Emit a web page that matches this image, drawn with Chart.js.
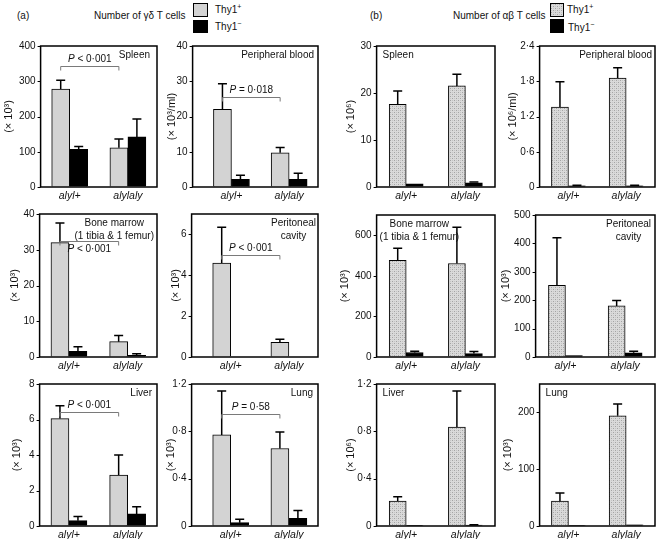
<!DOCTYPE html>
<html>
<head>
<meta charset="utf-8">
<script src="https://cdn.jsdelivr.net/npm/chart.js@4.4.1/dist/chart.umd.min.js"></script>
<style>
  body { margin: 0; width: 658px; height: 539px; position: relative; overflow: hidden; background: #fff;
         font-family: 'Liberation Sans', Arial, sans-serif; color: #111; }
  canvas { position: absolute; }
  .t { position: absolute; font-size: 10px; line-height: 1; white-space: nowrap; }
  .sw { position: absolute; border: 1px solid #000; box-sizing: border-box; }
  sup { font-size: 7px; vertical-align: 4px; line-height: 0; }
</style>
</head>
<body>
<div class="t" style="left:17px;top:11px">(a)</div>
<div class="t" style="left:94px;top:11px">Number of γδ T cells</div>
<div class="sw" style="left:193px;top:3px;width:15px;height:14px;background:#d3d3d3"></div>
<div class="sw" style="left:193px;top:20px;width:15px;height:13px;background:#000"></div>
<div class="t" style="left:215px;top:5px">Thy1<sup>+</sup></div>
<div class="t" style="left:215px;top:22px">Thy1<sup>−</sup></div>

<div class="t" style="left:370px;top:11px">(b)</div>
<div class="t" style="left:453px;top:11px">Number of αβ T cells</div>
<div class="sw" id="stippleSwatch" style="left:550px;top:3px;width:14px;height:14px"></div>
<div class="sw" style="left:550px;top:19px;width:14px;height:14px;background:#000"></div>
<div class="t" style="left:567px;top:5px">Thy1<sup>+</sup></div>
<div class="t" style="left:568px;top:23px">Thy1<sup>−</sup></div>

<script>
const groups = ['alyl+', 'alylaly'];

// (a) gamma-delta T cells: Thy1+ (pos) / Thy1- (neg), errors are the upper SE bar length
const gdSpleenPos = [278, 111];
const gdSpleenPosErr = [25, 25];
const gdSpleenNeg = [107, 142];
const gdSpleenNegErr = [8, 51];
const gdSpleenTicks = [0, 100, 200, 300, 400];

const gdBloodPos = [22, 9.7];
const gdBloodPosErr = [7.3, 1.5];
const gdBloodNeg = [2.2, 2.2];
const gdBloodNegErr = [1.1, 1.7];
const gdBloodTicks = [0, 10, 20, 30, 40];

const gdMarrowPos = [32, 4.3];
const gdMarrowPosErr = [5.5, 1.7];
const gdMarrowNeg = [1.6, 0.5];
const gdMarrowNegErr = [1.3, 0.4];
const gdMarrowTicks = [0, 10, 20, 30, 40];

const gdPeritPos = [4.6, 0.72];
const gdPeritPosErr = [1.75, 0.15];
const gdPeritNeg = [0, 0];
const gdPeritNegErr = [0, 0];
const gdPeritTicks = [0, 2, 4, 6];

const gdLiverPos = [6.05, 2.87];
const gdLiverPosErr = [0.72, 1.13];
const gdLiverNeg = [0.3, 0.68];
const gdLiverNegErr = [0.23, 0.4];
const gdLiverTicks = [0, 2, 4, 6, 8];

const gdLungPos = [0.77, 0.655];
const gdLungPosErr = [0.37, 0.14];
const gdLungNeg = [0.028, 0.065];
const gdLungNegErr = [0.03, 0.065];
const gdLungTicks = [0, 0.4, 0.8, 1.2];

// (b) alpha-beta T cells
const abSpleenPos = [17.6, 21.5];
const abSpleenPosErr = [2.8, 2.5];
const abSpleenNeg = [0.7, 0.9];
const abSpleenNegErr = [0, 0.15];
const abSpleenTicks = [0, 10, 20, 30];

const abBloodPos = [1.36, 1.855];
const abBloodPosErr = [0.43, 0.175];
const abBloodNeg = [0.02, 0.02];
const abBloodNegErr = [0.01, 0.01];
const abBloodTicks = [0, 0.6, 1.2, 1.8, 2.4];

const abMarrowPos = [477, 461];
const abMarrowPosErr = [59, 179];
const abMarrowNeg = [22, 17];
const abMarrowNegErr = [6, 10];
const abMarrowTicks = [0, 200, 400, 600];

const abPeritPos = [252, 180];
const abPeritPosErr = [168, 19];
const abPeritNeg = [5, 15];
const abPeritNegErr = [0, 5];
const abPeritTicks = [0, 100, 200, 300, 400, 500];

const abLiverPos = [0.211, 0.837];
const abLiverPosErr = [0.037, 0.303];
const abLiverNeg = [0.005, 0.008];
const abLiverNegErr = [0, 0.003];
const abLiverTicks = [0, 0.4, 0.8, 1.2];

const abLungPos = [43.7, 194];
const abLungPosErr = [14.5, 21];
const abLungNeg = [1, 2];
const abLungNegErr = [0, 0];
const abLungTicks = [0, 100, 200];

const FONT = "'Liberation Sans', Arial, sans-serif";
const GRAY = '#d3d3d3';

function makeStipple() {
  const c = document.createElement('canvas');
  c.width = 4;
  c.height = 4;
  const g = c.getContext('2d');
  g.fillStyle = '#dadada';
  g.fillRect(0, 0, 4, 4);
  g.fillStyle = '#a4a4a4';
  g.fillRect(0, 0, 1, 1);
  g.fillRect(2, 2, 1, 1);
  g.fillStyle = '#c4c4c4';
  g.fillRect(2, 0, 1, 1);
  g.fillRect(0, 2, 1, 1);
  return { canvas: c, pattern: g.createPattern(c, 'repeat') };
}
const stipple = makeStipple();
document.getElementById('stippleSwatch').style.background = `url(${stipple.canvas.toDataURL()})`;

// box = frame [left, top, right, bottom]; shift moves the bar groups right inside the frame
const panels = [
  { box: [41, 46, 157, 187], pos: gdSpleenPos, posErr: gdSpleenPosErr, neg: gdSpleenNeg, negErr: gdSpleenNegErr,
    ticks: gdSpleenTicks, max: 400, title: '(× 10³)', titleGap: 32,
    label: ['Spleen'], align: 'right', inset: 7, bracket: { value: 343, text: ' < 0·001' } },
  { box: [193, 46, 318, 187], shift: 10, pos: gdBloodPos, posErr: gdBloodPosErr, neg: gdBloodNeg, negErr: gdBloodNegErr,
    ticks: gdBloodTicks, max: 40, title: '(× 10³/ml)', titleGap: 21,
    label: ['Peripheral blood'], align: 'right', inset: 4, bracket: { value: 25.5, text: ' = 0·018' } },
  { box: [377, 46, 495, 187], pos: abSpleenPos, posErr: abSpleenPosErr, neg: abSpleenNeg, negErr: abSpleenNegErr,
    ticks: abSpleenTicks, max: 30, title: '(× 10⁶)', titleGap: 26, stipple: true,
    label: ['Spleen'], align: 'left', inset: 6 },
  { box: [540, 46, 655, 187], pos: abBloodPos, posErr: abBloodPosErr, neg: abBloodNeg, negErr: abBloodNegErr,
    ticks: abBloodTicks, max: 2.4, title: '(× 10⁶/ml)', titleGap: 27, stipple: true,
    label: ['Peripheral blood'], align: 'right', inset: 3 },

  { box: [40, 214, 157, 357], pos: gdMarrowPos, posErr: gdMarrowPosErr, neg: gdMarrowNeg, negErr: gdMarrowNegErr,
    ticks: gdMarrowTicks, max: 40, title: '(× 10³)', titleGap: 25,
    label: ['Bone marrow', '(1 tibia & 1 femur)'], align: 'right', inset: 3,
    bracket: { value: 32.5, text: ' < 0·001', below: true } },
  { box: [192, 214, 318, 357], shift: 10, pos: gdPeritPos, posErr: gdPeritPosErr, neg: gdPeritNeg, negErr: gdPeritNegErr,
    ticks: gdPeritTicks, max: 7, title: '(× 10³)', titleGap: 16,
    label: ['Peritoneal', 'cavity'], align: 'right', inset: 2, bracket: { value: 5.0, text: ' < 0·001' } },
  { box: [377, 215, 495, 357], pos: abMarrowPos, posErr: abMarrowPosErr, neg: abMarrowNeg, negErr: abMarrowNegErr,
    ticks: abMarrowTicks, max: 700, title: '(× 10³)', titleGap: 32, stipple: true,
    label: ['Bone marrow', '(1 tibia & 1 femur)'], align: 'left', inset: 3 },
  { box: [536, 215, 655, 357], pos: abPeritPos, posErr: abPeritPosErr, neg: abPeritNeg, negErr: abPeritNegErr,
    ticks: abPeritTicks, max: 500, title: '(× 10³)', titleGap: 30, stipple: true,
    label: ['Peritoneal', 'cavity'], align: 'right', inset: 4 },

  { box: [40, 384, 157, 526], pos: gdLiverPos, posErr: gdLiverPosErr, neg: gdLiverNeg, negErr: gdLiverNegErr,
    ticks: gdLiverTicks, max: 8, title: '(× 10³)', titleGap: 23,
    label: ['Liver'], align: 'right', inset: 5, bracket: { value: 6.45, text: ' < 0·001' } },
  { box: [192, 384, 318, 526], shift: 10, pos: gdLungPos, posErr: gdLungPosErr, neg: gdLungNeg, negErr: gdLungNegErr,
    ticks: gdLungTicks, max: 1.2, title: '(× 10³)', titleGap: 21,
    label: ['Lung'], align: 'right', inset: 5, bracket: { value: 0.945, text: ' = 0·58' } },
  { box: [377, 384, 495, 526], pos: abLiverPos, posErr: abLiverPosErr, neg: abLiverNeg, negErr: abLiverNegErr,
    ticks: abLiverTicks, max: 1.2, title: '(× 10⁶)', titleGap: 26, stipple: true,
    label: ['Liver'], align: 'left', inset: 6 },
  { box: [540, 384, 655, 526], pos: abLungPos, posErr: abLungPosErr, neg: abLungNeg, negErr: abLungNegErr,
    ticks: abLungTicks, max: 250, title: '(× 10³)', titleGap: 32, stipple: true,
    label: ['Lung'], align: 'left', inset: 6 },
];

function formatTick(value) {
  return String(value).replace('.', '·');
}

function makePanel(p) {
  const [left, top, right, bottom] = p.box;
  const shift = p.shift || 0;
  const areaLeft = left + shift;
  const titleSize = 11;
  const axisW = p.titleGap + titleSize * 0.6 + shift;
  const padTop = 8;
  const padRight = 4;
  const axisH = 18;

  const canvas = document.createElement('canvas');
  canvas.width = Math.round(axisW + (right - areaLeft) + padRight);
  canvas.height = padTop + (bottom - top) + axisH;
  canvas.style.left = Math.round(areaLeft - axisW) + 'px';
  canvas.style.top = (top - padTop) + 'px';
  document.body.appendChild(canvas);

  const thickness = p.stipple ? 17 : 18;

  const panelPlugin = {
    id: 'panelExtras',
    afterDatasetsDraw(chart) {
      const { ctx, chartArea, scales } = chart;
      const y = scales.y;
      const frameLeft = chartArea.left - shift;
      ctx.save();

      // error bars, upper side only
      ctx.strokeStyle = '#000';
      ctx.lineWidth = 1.5;
      chart.data.datasets.forEach((ds, di) => {
        chart.getDatasetMeta(di).data.forEach((bar, i) => {
          const err = ds.errors[i];
          if (!err) return;
          const yTop = y.getPixelForValue(ds.data[i] + err);
          ctx.beginPath();
          ctx.moveTo(bar.x, bar.y);
          ctx.lineTo(bar.x, yTop);
          ctx.moveTo(bar.x - 4.5, yTop);
          ctx.lineTo(bar.x + 4.5, yTop);
          ctx.stroke();
        });
      });

      // y tick marks on the frame
      ctx.lineWidth = 1;
      ctx.beginPath();
      y.ticks.forEach((t) => {
        const py = Math.round(y.getPixelForValue(t.value)) + 0.5;
        ctx.moveTo(frameLeft - 3, py);
        ctx.lineTo(frameLeft, py);
      });
      ctx.stroke();

      // frame
      ctx.lineWidth = 1.5;
      ctx.strokeRect(frameLeft, chartArea.top, chartArea.right - frameLeft, chartArea.bottom - chartArea.top);

      // significance bracket between the two Thy1+ bars
      if (p.bracket) {
        const bars = chart.getDatasetMeta(0).data;
        const x1 = bars[0].x;
        const x2 = bars[1].x;
        const yb = Math.round(y.getPixelForValue(p.bracket.value)) + 0.5;
        ctx.strokeStyle = '#7a7a7a';
        ctx.lineWidth = 1;
        ctx.beginPath();
        ctx.moveTo(x1, yb + 4);
        ctx.lineTo(x1, yb);
        ctx.lineTo(x2, yb);
        ctx.lineTo(x2, yb + 4);
        ctx.stroke();

        ctx.fillStyle = '#111';
        ctx.textBaseline = 'middle';
        ctx.font = `italic 10px ${FONT}`;
        const wP = ctx.measureText('P').width;
        ctx.font = `10px ${FONT}`;
        const wRest = ctx.measureText(p.bracket.text).width;
        const tx = (x1 + x2) / 2 - (wP + wRest) / 2;
        const ty = p.bracket.below ? yb + 8 : yb - 7;
        ctx.font = `italic 10px ${FONT}`;
        ctx.textAlign = 'left';
        ctx.fillText('P', tx, ty);
        ctx.font = `10px ${FONT}`;
        ctx.fillText(p.bracket.text, tx + wP, ty);
      }

      // tissue label inside the box
      ctx.font = `10px ${FONT}`;
      ctx.fillStyle = '#111';
      ctx.textBaseline = 'middle';
      ctx.textAlign = 'center';
      const widths = p.label.map((s) => ctx.measureText(s).width);
      const maxW = Math.max(...widths);
      const cx = p.align === 'right'
        ? chartArea.right - p.inset - maxW / 2
        : frameLeft + p.inset + maxW / 2;
      p.label.forEach((line, i) => {
        ctx.fillText(line, cx, chartArea.top + 9 + i * 13);
      });

      ctx.restore();
    },
  };

  new Chart(canvas, {
    type: 'bar',
    data: {
      labels: groups,
      datasets: [
        {
          label: 'Thy1+',
          data: p.pos,
          errors: p.posErr,
          backgroundColor: p.stipple ? stipple.pattern : GRAY,
          borderColor: '#000',
          borderWidth: 1,
          barThickness: thickness,
        },
        {
          label: 'Thy1-',
          data: p.neg,
          errors: p.negErr,
          backgroundColor: '#000',
          borderColor: '#000',
          borderWidth: 1,
          barThickness: thickness,
        },
      ],
    },
    options: {
      responsive: false,
      animation: false,
      events: [],
      layout: { padding: { top: padTop, right: padRight, left: 0, bottom: 0 } },
      plugins: {
        legend: { display: false },
        tooltip: { enabled: false },
      },
      scales: {
        x: {
          grid: { display: false, drawTicks: false },
          border: { display: false },
          ticks: {
            color: '#111',
            padding: 3,
            maxRotation: 0,
            font: { family: FONT, size: 10.5, style: 'italic' },
          },
          afterFit: (scale) => { scale.height = axisH; },
        },
        y: {
          min: 0,
          max: p.max,
          grid: { drawOnChartArea: false, tickLength: 3 + shift, color: 'rgba(0,0,0,0)' },
          border: { display: false },
          ticks: {
            color: '#111',
            padding: 2,
            font: { family: FONT, size: 10 },
            callback: (value) => formatTick(value),
          },
          afterBuildTicks: (scale) => { scale.ticks = p.ticks.map((value) => ({ value })); },
          title: {
            display: true,
            text: p.title,
            color: '#111',
            padding: 0,
            font: { family: FONT, size: titleSize },
          },
          afterFit: (scale) => { scale.width = axisW; },
        },
      },
    },
    plugins: [panelPlugin],
  });
}

panels.forEach(makePanel);
</script>
</body>
</html>
